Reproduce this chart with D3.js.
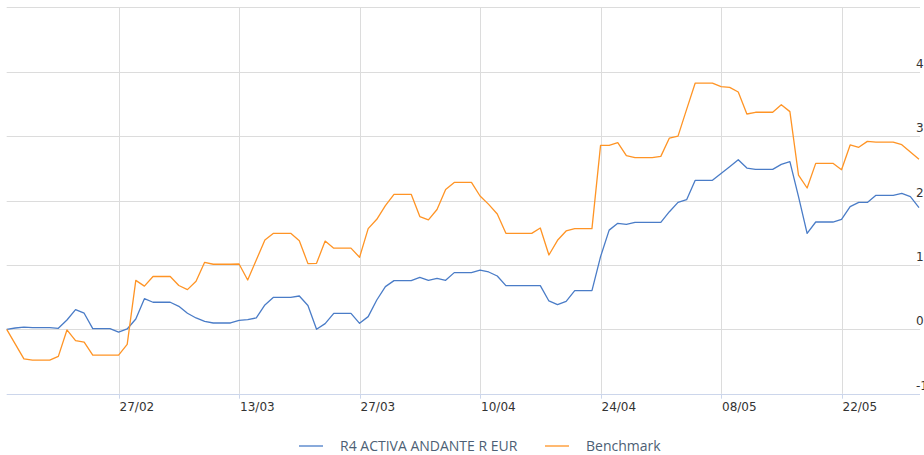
<!DOCTYPE html>
<html>
<head>
<meta charset="utf-8">
<script src="https://cdn.jsdelivr.net/npm/d3@7"></script>
<style>
  body { margin: 0; background: #fff; }
  svg { display: block; }
</style>
</head>
<body>
<div id="chart"></div>
<script>
// daily values, 14/02/2023 -> 31/05/2023
const startDate = "14/02/2023";
const endDate = "31/05/2023";

const fundName = "R4 ACTIVA ANDANTE R EUR";
const benchName = "Benchmark";

const fundValues = [
  0.00, 0.02, 0.035, 0.025, 0.025, 0.025, 0.015, 0.145, 0.305, 0.25,
  0.01, 0.01, 0.01, -0.045, 0.005, 0.16, 0.476, 0.42, 0.42, 0.42,
  0.357, 0.25, 0.176, 0.124, 0.098, 0.098, 0.098, 0.14, 0.15, 0.176,
  0.378, 0.496, 0.496, 0.496, 0.517, 0.37, 0.0, 0.088, 0.248, 0.248,
  0.248, 0.093, 0.197, 0.455, 0.663, 0.756, 0.756, 0.756, 0.807, 0.76,
  0.79, 0.76, 0.88, 0.88, 0.88, 0.92, 0.89, 0.828, 0.678, 0.678,
  0.678, 0.678, 0.678, 0.44, 0.383, 0.435, 0.6, 0.6, 0.6, 1.128,
  1.54, 1.645, 1.63, 1.66, 1.66, 1.66, 1.66, 1.826, 1.97, 2.013,
  2.313, 2.313, 2.313, 2.42, 2.525, 2.634, 2.504, 2.484, 2.484, 2.484,
  2.56, 2.603, 2.06, 1.49, 1.666, 1.666, 1.666, 1.707, 1.904, 1.97,
  1.97, 2.08, 2.08, 2.08, 2.11, 2.06, 1.89
];

const benchValues = [
  0.00, -0.23, -0.46, -0.48, -0.48, -0.48, -0.42, -0.01, -0.176, -0.2,
  -0.40, -0.40, -0.40, -0.40, -0.233, 0.76, 0.67, 0.82, 0.82, 0.82,
  0.68, 0.616, 0.745, 1.04, 1.01, 1.01, 1.01, 1.014, 0.765, 1.076,
  1.387, 1.49, 1.49, 1.49, 1.376, 1.02, 1.025, 1.37, 1.26, 1.26,
  1.26, 1.118, 1.563, 1.708, 1.92, 2.096, 2.096, 2.096, 1.75, 1.70,
  1.86, 2.17, 2.28, 2.28, 2.28, 2.07, 1.94, 1.79, 1.49, 1.49,
  1.49, 1.49, 1.573, 1.154, 1.382, 1.527, 1.563, 1.563, 1.563, 2.856,
  2.856, 2.90, 2.696, 2.665, 2.665, 2.665, 2.685, 2.97, 3.0, 3.415,
  3.824, 3.824, 3.824, 3.767, 3.757, 3.685, 3.343, 3.37, 3.37, 3.37,
  3.488, 3.38, 2.395, 2.194, 2.577, 2.577, 2.577, 2.478, 2.862, 2.826,
  2.918, 2.908, 2.908, 2.908, 2.867, 2.753, 2.64
];

const xTicks = ["27/02/2023", "13/03/2023", "27/03/2023", "10/04/2023", "24/04/2023", "08/05/2023", "22/05/2023"];
const yTicks = [-1, 0, 1, 2, 3, 4, 5];

const width = 924, height = 455;
const plot = { left: 6.7, right: 919, top: 7.3, bottom: 393.7 };

const parse = d3.timeParse("%d/%m/%Y");
const fmt = d3.timeFormat("%d/%m");
const dates = d3.timeDay.range(parse(startDate), d3.timeDay.offset(parse(endDate), 1));

const series = [
  { name: fundName, color: "#4a7cc7", values: fundValues },
  { name: benchName, color: "#ff9425", values: benchValues }
];

const x = d3.scaleTime()
  .domain([dates[0], dates[dates.length - 1]])
  .range([plot.left, plot.right]);

const y = d3.scaleLinear()
  .domain([-1, 5])
  .range([plot.bottom, plot.top]);

const svg = d3.select("#chart").append("svg")
  .attr("width", width)
  .attr("height", height);

// horizontal grid
svg.append("g")
  .selectAll("line")
  .data(yTicks.filter(v => v > -1))
  .enter().append("line")
  .attr("x1", plot.left).attr("x2", plot.right + 1)
  .attr("y1", d => Math.round(y(d)) + 0.5).attr("y2", d => Math.round(y(d)) + 0.5)
  .attr("stroke", "#dcdcdc");

// vertical grid + ticks
const tickDates = xTicks.map(parse);
svg.append("g")
  .selectAll("line")
  .data(tickDates)
  .enter().append("line")
  .attr("x1", d => Math.round(x(d)) + 0.5).attr("x2", d => Math.round(x(d)) + 0.5)
  .attr("y1", Math.round(y(5))).attr("y2", plot.bottom)
  .attr("stroke", "#dcdcdc");

svg.append("g")
  .selectAll("line")
  .data(tickDates)
  .enter().append("line")
  .attr("x1", d => Math.round(x(d)) + 0.5).attr("x2", d => Math.round(x(d)) + 0.5)
  .attr("y1", plot.bottom).attr("y2", plot.bottom + 5)
  .attr("stroke", "#ccd6eb");

// x axis line
svg.append("line")
  .attr("x1", plot.left).attr("x2", plot.right + 1)
  .attr("y1", Math.round(plot.bottom) + 0.5).attr("y2", Math.round(plot.bottom) + 0.5)
  .attr("stroke", "#ccd6eb");

// x labels
svg.append("g")
  .selectAll("text")
  .data(tickDates)
  .enter().append("text")
  .attr("x", d => x(d) + 1)
  .attr("y", 411)
  .text(d => fmt(d))
  .style("font-family", "DejaVu Sans, sans-serif")
  .style("font-size", "12px")
  .style("fill", "#333");

// y labels (right side, clipped by the frame as in the original)
svg.append("g")
  .selectAll("text")
  .data(yTicks.filter(v => v < 5))
  .enter().append("text")
  .attr("x", 916)
  .attr("y", d => y(d) - 4)
  .text(d => d)
  .style("font-family", "DejaVu Sans, sans-serif")
  .style("font-size", "12px")
  .style("fill", "#333");

// lines
const line = d3.line()
  .x((d, i) => x(dates[i]))
  .y(d => y(d));

svg.append("g")
  .selectAll("path")
  .data(series)
  .enter().append("path")
  .attr("d", d => line(d.values))
  .attr("fill", "none")
  .attr("stroke", d => d.color)
  .attr("stroke-width", 1.3)
  .attr("stroke-linejoin", "round");

// legend
const legend = svg.append("g");
const legendPos = [299, 545];
series.forEach((s, i) => {
  const g = legend.append("g").attr("transform", "translate(" + legendPos[i] + ",446)");
  g.append("line")
    .attr("x1", 0).attr("x2", 24)
    .attr("stroke", s.color)
    .attr("stroke-width", 1.3);
  g.append("text")
    .attr("x", 41)
    .attr("y", 5)
    .text(s.name)
    .style("font-family", "Open Sans, sans-serif")
    .style("font-size", "14px")
    .style("fill", "#4d5f75");
});
</script>
</body>
</html>
